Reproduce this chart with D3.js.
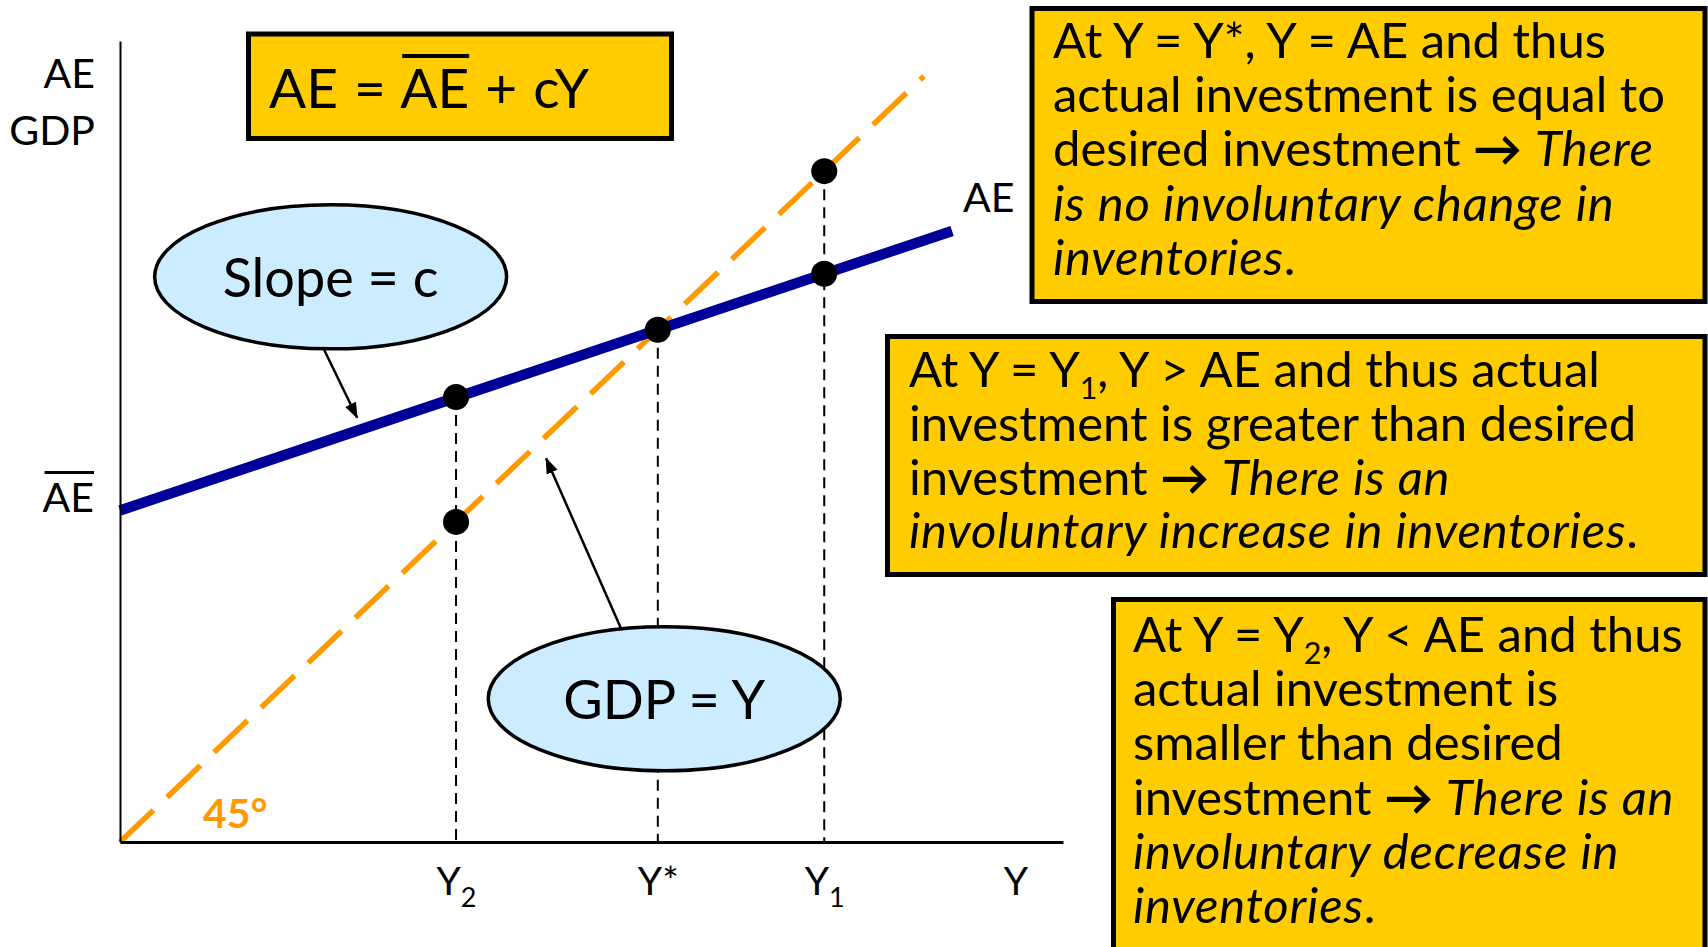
<!DOCTYPE html>
<html>
<head>
<meta charset="utf-8">
<script src="https://cdn.jsdelivr.net/npm/d3@7"></script>
<style>
body { margin: 0; background: #fff; }
svg { display: block; font-family: Lato, "Open Sans", sans-serif; }
</style>
</head>
<body>
<div id="chart"></div>
<script>
// values (model units, 45 degree line is y = x)
var aeBar = 4.33;
var line45 = [[0, 0], [10, 10]];
var aeLine = [[0, 4.33], [10.35, 7.98]];
var yLevels = [4.18, 6.69, 8.76];          // Y2, Y*, Y1
var yLevelNames = [["Y", "2"], ["Y*", ""], ["Y", "1"]];
var guideTops = [5.81, 6.69, 8.76];
var dotPoints = [[4.18, 5.81], [4.18, 4.18], [6.69, 6.69], [8.76, 8.76], [8.76, 7.42]];

// callouts: ellipse centre and arrow tip in model units
var callouts = [
	{text: "Slope = c", cx: 2.62, cy: 7.38, tipX: 2.95, tipY: 5.54, tailDx: -7, side: 1},
	{text: "GDP = Y", cx: 6.77, cy: 1.87, tipX: 5.30, tipY: 5.01, tailDx: -43, side: -1}
];

// text boxes, segments: [text, style]  i = italic, s = subscript, b = bold
var box1Lines = [
	[["At Y = Y*, Y = AE and thus"]],
	[["actual investment is equal to"]],
	[["desired investment "], ["\u2192", "b"], [" "], ["There", "i"]],
	[["is no involuntary change in", "i"]],
	[["inventories", "i"], ["."]]
];
var box2Lines = [
	[["At Y = Y"], ["1", "s"], [", Y > AE and thus actual"]],
	[["investment is greater than desired"]],
	[["investment "], ["\u2192", "b"], [" "], ["There is an", "i"]],
	[["involuntary increase in inventories", "i"], ["."]]
];
var box3Lines = [
	[["At Y = Y"], ["2", "s"], [", Y < AE and thus"]],
	[["actual investment is"]],
	[["smaller than desired"]],
	[["investment "], ["\u2192", "b"], [" "], ["There is an", "i"]],
	[["involuntary decrease in", "i"]],
	[["inventories", "i"], ["."]]
];

var W = 1708, H = 947;
var gold = "#FFCC00", sky = "#CCECFF", navy = "#000099", orange = "#FF9900";

var svg = d3.select("#chart").append("svg").attr("width", W).attr("height", H);

svg.append("defs").append("marker")
	.attr("id", "head")
	.attr("markerUnits", "userSpaceOnUse")
	.attr("viewBox", "0 0 16 12")
	.attr("markerWidth", 16).attr("markerHeight", 12)
	.attr("refX", 15).attr("refY", 6)
	.attr("orient", "auto")
	.append("path").attr("d", "M0,0L16,6L0,12z").attr("fill", "#000");

var x = d3.scaleLinear().domain([0, 11.73]).range([120, 1063]);
var y = d3.scaleLinear().domain([0, 10.46]).range([842, 41]);

var line = d3.line().x(function(d) { return x(d[0]); }).y(function(d) { return y(d[1]); });

// dashed guides down to the axis
svg.selectAll(".guide").data(yLevels).enter()
	.append("line")
	.attr("class", "guide")
	.attr("x1", function(d) { return x(d); })
	.attr("x2", function(d) { return x(d); })
	.attr("y1", function(d, i) { return y(guideTops[i]); })
	.attr("y2", y(0))
	.attr("stroke", "#000").attr("stroke-width", 2)
	.attr("stroke-dasharray", "11,7");

svg.append("path").datum(line45)
	.attr("d", line)
	.attr("fill", "none").attr("stroke", orange)
	.attr("stroke-width", 5.5).attr("stroke-dasharray", "46,19");

svg.append("path").datum(aeLine)
	.attr("d", line)
	.attr("fill", "none").attr("stroke", navy)
	.attr("stroke-width", 10.5);

svg.selectAll(".dot").data(dotPoints).enter()
	.append("circle")
	.attr("class", "dot")
	.attr("cx", function(d) { return x(d[0]); })
	.attr("cy", function(d) { return y(d[1]); })
	.attr("r", 13).attr("fill", "#000");

// axes without ticks
var yAxis = svg.append("g").attr("transform", "translate(" + x(0) + ",0)")
	.call(d3.axisLeft(y).tickValues([]).tickSizeOuter(0));
yAxis.select(".domain").attr("stroke-width", 2);

var xAxis = svg.append("g").attr("transform", "translate(0," + y(0) + ")")
	.call(d3.axisBottom(x).tickValues(yLevels).tickSize(0).tickFormat(""));
xAxis.select(".domain").attr("stroke-width", 3);

xAxis.selectAll(".tick").each(function(d, i) {
	var t = d3.select(this).append("text")
		.attr("y", 53).attr("fill", "#000")
		.attr("font-family", "Lato").attr("font-size", 39)
		.attr("text-anchor", "middle");
	t.append("tspan").text(yLevelNames[i][0]);
	if (yLevelNames[i][1] != "") {
		t.append("tspan").attr("font-size", 27).attr("dy", 12).text(yLevelNames[i][1]);
	}
});

svg.append("text").attr("x", 1016).attr("y", 895)
	.attr("font-size", 39).attr("text-anchor", "middle").text("Y");

svg.append("text").attr("x", 95).attr("y", 88)
	.attr("font-size", 41).attr("text-anchor", "end").text("AE");
svg.append("text").attr("x", 95).attr("y", 145)
	.attr("font-size", 41).attr("text-anchor", "end").text("GDP");

var aeBarLabel = svg.append("text").attr("x", 94).attr("y", y(aeBar) + 2)
	.attr("font-size", 41).attr("text-anchor", "end").text("AE");
var bb = aeBarLabel.node().getBBox();
svg.append("line")
	.attr("x1", bb.x + 2).attr("x2", bb.x + bb.width)
	.attr("y1", y(aeBar) - 38).attr("y2", y(aeBar) - 38)
	.attr("stroke", "#000").attr("stroke-width", 3);

var aeEnd = aeLine[aeLine.length - 1];
svg.append("text").attr("x", x(aeEnd[0]) + 11).attr("y", y(aeEnd[1]) - 19)
	.attr("font-size", 41).text("AE");

svg.append("text").attr("x", x(0) + 83).attr("y", y(0) - 14)
	.attr("font-size", 41).attr("font-weight", "bold")
	.attr("fill", orange).text("45\u00b0");

// callout ellipses with arrows
var rx = 176, ry = 72;
callouts.forEach(function(c) {
	var cx = x(c.cx), cy = y(c.cy);
	var tailY = cy + c.side * ry * Math.sqrt(1 - (c.tailDx / rx) * (c.tailDx / rx));
	svg.append("line")
		.attr("x1", cx + c.tailDx).attr("y1", tailY)
		.attr("x2", x(c.tipX)).attr("y2", y(c.tipY))
		.attr("stroke", "#000").attr("stroke-width", 2.5)
		.attr("marker-end", "url(#head)");
	svg.append("ellipse")
		.attr("cx", cx).attr("cy", cy).attr("rx", rx).attr("ry", ry)
		.attr("fill", sky).attr("stroke", "#000").attr("stroke-width", 3.5);
	svg.append("text").attr("x", cx).attr("y", cy + 20)
		.attr("font-size", 54).attr("text-anchor", "middle").text(c.text);
});

// formula box
svg.append("rect").attr("x", 248.5).attr("y", 34).attr("width", 423).attr("height", 104.5)
	.attr("fill", gold).attr("stroke", "#000").attr("stroke-width", 5);
var formula = svg.append("text").attr("x", 269).attr("y", 108)
	.attr("font-size", 55).attr("word-spacing", 2).text("AE = AE + cY");
var fn = formula.node();
var ox1 = fn.getStartPositionOfChar(5).x, ox2 = fn.getEndPositionOfChar(6).x;
svg.append("line").attr("x1", ox1 + 2).attr("x2", ox2)
	.attr("y1", 56).attr("y2", 56)
	.attr("stroke", "#000").attr("stroke-width", 4);

function addBox(bx, by, bw, bh, tx, ty, lh, lines) {
	svg.append("rect").attr("x", bx).attr("y", by).attr("width", bw).attr("height", bh)
		.attr("fill", gold).attr("stroke", "#000").attr("stroke-width", 5);
	var size = 49;
	var t = svg.append("text").attr("font-size", size);
	lines.forEach(function(segs, li) {
		var shift = 0;
		segs.forEach(function(s, si) {
			var ts = t.append("tspan").text(s[0]);
			if (si == 0) ts.attr("x", tx).attr("y", ty + li * lh);
			if (s[1] == "i") ts.attr("font-style", "italic").attr("letter-spacing", 0.8);
			if (s[1] == "b") ts.attr("font-weight", "bold");
			if (s[1] == "s") {
				shift = size * 0.24;
				ts.attr("font-size", size * 0.62).attr("dy", shift);
			} else if (shift) {
				ts.attr("dy", -shift);
				shift = 0;
			}
		});
	});
}

addBox(1032, 8.5, 673, 293, 1053, 58, 54.2, box1Lines);
addBox(887.5, 336.5, 817.5, 238, 909, 387, 53.8, box2Lines);
addBox(1113.5, 599.5, 591.5, 360, 1133, 652, 54.2, box3Lines);
</script>
</body>
</html>
